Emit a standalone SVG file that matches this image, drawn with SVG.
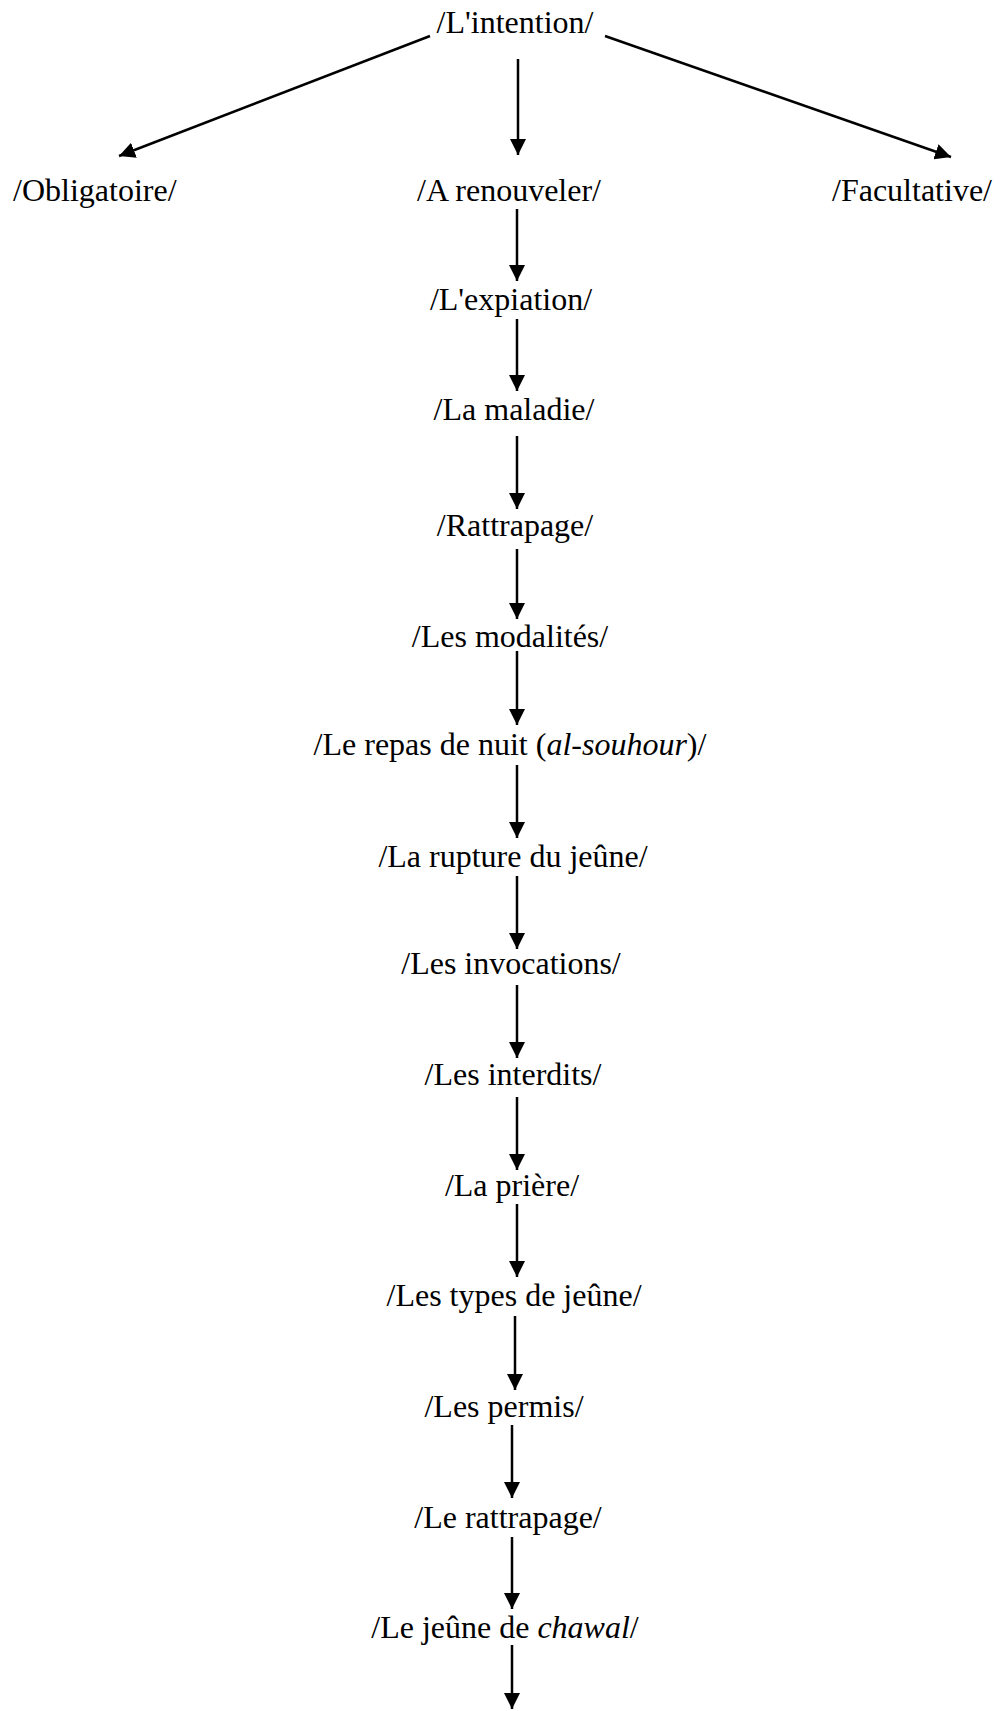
<svg xmlns="http://www.w3.org/2000/svg" width="1004" height="1711" viewBox="0 0 1004 1711">
<defs>
<style>
.t{font-family:"Liberation Serif","Times New Roman",serif;font-size:32px;fill:#000;text-anchor:middle}
.e{text-anchor:start}
.c{stroke:#000;stroke-width:2.5;fill:none;marker-end:url(#ah)}
</style>
<marker id="ah" markerUnits="userSpaceOnUse" markerWidth="17" markerHeight="16" refX="16" refY="8" orient="auto">
<path d="M0,0 L16,8 L0,16 Z" fill="#000"/>
</marker>
</defs>
<rect width="1004" height="1711" fill="#fff"/>
<g id="connectors">
<line class="c" x1="430" y1="36" x2="119" y2="156"/>
<line class="c" x1="518" y1="59" x2="518" y2="155"/>
<line class="c" x1="605" y1="36" x2="951" y2="157"/>
<line class="c" x1="517" y1="209" x2="517" y2="281"/>
<line class="c" x1="517" y1="319" x2="517" y2="391"/>
<line class="c" x1="517" y1="436" x2="517" y2="509"/>
<line class="c" x1="517" y1="549" x2="517" y2="619"/>
<line class="c" x1="517" y1="651" x2="517" y2="725"/>
<line class="c" x1="517" y1="765" x2="517" y2="838"/>
<line class="c" x1="517" y1="876" x2="517" y2="949"/>
<line class="c" x1="517" y1="985" x2="517" y2="1058"/>
<line class="c" x1="517" y1="1097" x2="517" y2="1170"/>
<line class="c" x1="517" y1="1204" x2="517" y2="1277"/>
<line class="c" x1="515" y1="1316" x2="515" y2="1390"/>
<line class="c" x1="512" y1="1425" x2="512" y2="1498"/>
<line class="c" x1="512" y1="1537" x2="512" y2="1609"/>
<line class="c" x1="512" y1="1645" x2="512" y2="1709"/>
</g>
<g id="n-intention"><text class="t" x="515" y="33">/L'intention/</text></g>
<g id="n-obligatoire"><text class="t e" x="13" y="201">/Obligatoire/</text></g>
<g id="n-renouveler"><text class="t" x="509" y="201">/A renouveler/</text></g>
<g id="n-facultative"><text class="t" x="912" y="201">/Facultative/</text></g>
<g id="n-expiation"><text class="t" x="511" y="310">/L'expiation/</text></g>
<g id="n-maladie"><text class="t" x="514" y="420">/La maladie/</text></g>
<g id="n-rattrapage1"><text class="t" x="515" y="536">/Rattrapage/</text></g>
<g id="n-modalites"><text class="t" x="510" y="647">/Les modalités/</text></g>
<g id="n-repas"><text class="t" x="510" y="755">/Le repas de nuit (<tspan font-style="italic">al-souhour</tspan>)/</text></g>
<g id="n-rupture"><text class="t" x="513" y="867">/La rupture du jeûne/</text></g>
<g id="n-invocations"><text class="t" x="511" y="974">/Les invocations/</text></g>
<g id="n-interdits"><text class="t" x="513" y="1085">/Les interdits/</text></g>
<g id="n-priere"><text class="t" x="512" y="1196">/La prière/</text></g>
<g id="n-types"><text class="t" x="514" y="1306">/Les types de jeûne/</text></g>
<g id="n-permis"><text class="t" x="504" y="1417">/Les permis/</text></g>
<g id="n-rattrapage2"><text class="t" x="508" y="1528">/Le rattrapage/</text></g>
<g id="n-chawal"><text class="t" x="505" y="1638">/Le jeûne de <tspan font-style="italic">chawal</tspan>/</text></g>
</svg>
